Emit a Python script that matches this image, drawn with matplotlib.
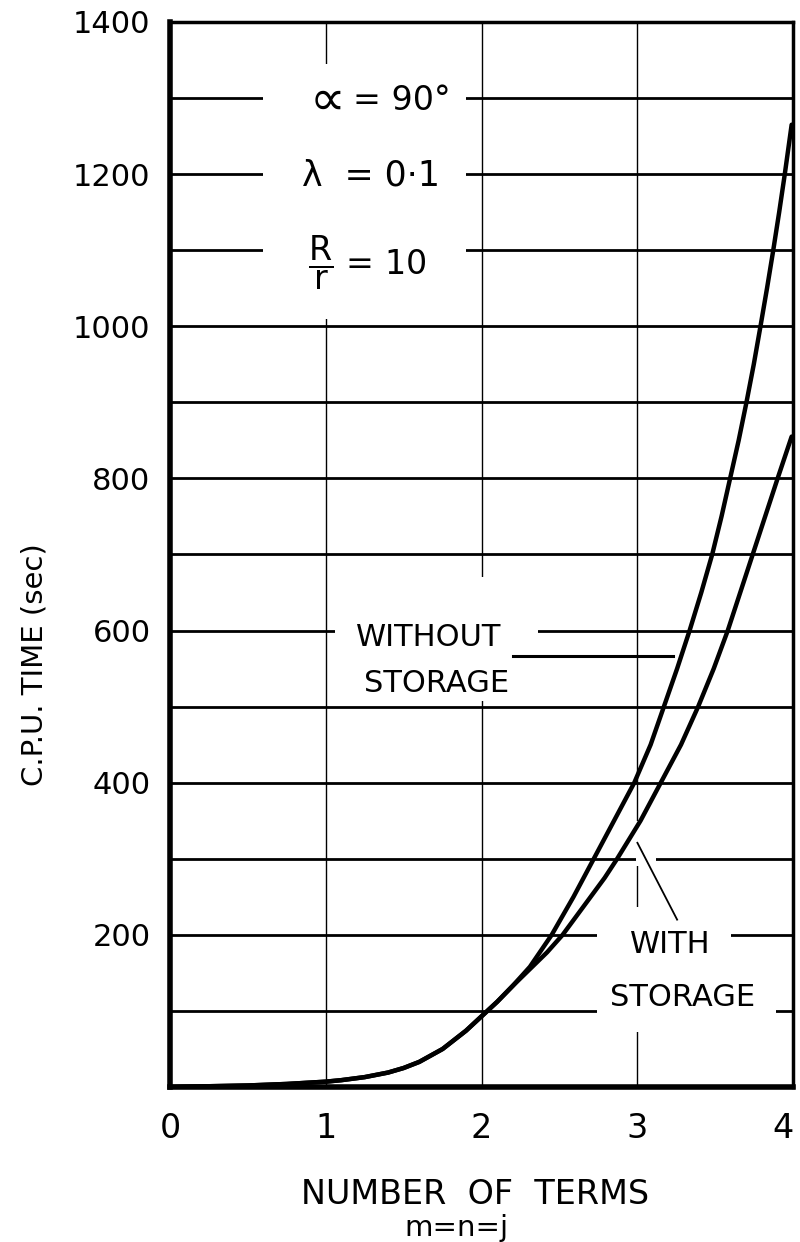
import matplotlib
matplotlib.use('Agg')
import matplotlib.pyplot as plt
from matplotlib.patches import Rectangle

plt.rcParams['font.family'] = ['DejaVu Sans']
plt.rcParams['mathtext.fontset'] = 'dejavusans'

# curves (number of terms, cpu seconds)
terms_without = [0, 0.25, 0.5, 0.75, 1.0, 1.1, 1.25, 1.4, 1.5, 1.6, 1.75, 1.9, 2.0, 2.1, 2.2,
                 2.31, 2.45, 2.59, 2.72, 2.85, 2.98, 3.085, 3.17, 3.255, 3.335, 3.41, 3.48,
                 3.54, 3.595, 3.65, 3.70, 3.747, 3.79, 3.832, 3.872, 3.91, 3.946, 3.99]
cpu_without = [0, 1, 2, 4, 7, 9, 13, 19, 25, 33, 50, 74, 93, 112, 133,
               158, 200, 250, 300, 350, 400, 450, 500, 550, 600, 650, 700,
               750, 800, 850, 900, 950, 1000, 1050, 1100, 1150, 1200, 1265]

terms_with = [0, 0.25, 0.5, 0.75, 1.0, 1.1, 1.25, 1.4, 1.5, 1.6, 1.75, 1.9, 2.0, 2.1, 2.2,
              2.31, 2.42, 2.52, 2.61, 2.70, 2.79, 2.87, 3.02, 3.15, 3.28, 3.39, 3.49,
              3.58, 3.66, 3.74, 3.82, 3.90, 3.99]
cpu_with = [0, 1, 2, 4, 7, 9, 13, 19, 25, 33, 50, 74, 93, 112, 133,
            155, 177, 200, 225, 250, 275, 300, 350, 400, 450, 500, 550,
            600, 650, 700, 750, 800, 855]

x_ticks = [0, 1, 2, 3, 4]
y_ticks = [200, 400, 600, 800, 1000, 1200, 1400]
y_grid = [100, 200, 300, 400, 500, 600, 700, 800, 900, 1000, 1100, 1200, 1300]

fig = plt.figure(figsize=(8, 12.42), dpi=100)
ax = fig.add_axes([0.2125, 0.1248, 0.779, 0.8575])
ax.set_xlim(0, 4)
ax.set_ylim(0, 1400)

# grid: heavy horizontals, light verticals
for yv in y_grid:
    ax.axhline(yv, color='black', lw=2.0, zorder=0.5)
for xv in x_ticks[1:-1]:
    ax.axvline(xv, color='black', lw=1.0, zorder=0.5)

# blank areas where the draughtsman broke the grid for lettering
gaps = [(0.60, 1010, 1.30, 335),   # parameter block
        (1.06, 507, 1.30, 163),    # WITHOUT STORAGE
        (2.74, 72, 0.86, 165),     # WITH STORAGE
        (3.60, 90, 0.29, 20),
        (2.99, 290, 0.13, 60)]
for gx, gy, gw, gh in gaps:
    ax.add_patch(Rectangle((gx, gy), gw, gh, facecolor='white', edgecolor='none', zorder=1))

ax.plot(terms_without, cpu_without, color='black', lw=3.2, solid_joinstyle='round',
        solid_capstyle='round', zorder=3)
ax.plot(terms_with, cpu_with, color='black', lw=3.2, solid_joinstyle='round',
        solid_capstyle='round', zorder=3)

# leader lines
ax.plot([2.2, 3.23], [566, 566], color='black', lw=2.2, zorder=3)
ax.plot([3.0, 3.255], [321, 220], color='black', lw=1.3, zorder=3)

# parameter block
ax.text(1.01, 1297, '∝', fontsize=36, ha='center', va='center', zorder=4)
ax.text(1.49, 1297, '= 90°', fontsize=24, ha='center', va='center', zorder=4)
ax.text(1.29, 1198, 'λ  = 0·1', fontsize=25, ha='center', va='center', zorder=4)
ax.text(1.27, 1083, r'$\dfrac{\mathsf{R}}{\mathsf{r}}$ = 10', fontsize=24, ha='center',
        va='center', zorder=4)

ax.text(1.66, 591, 'WITHOUT', fontsize=22, ha='center', va='center', zorder=4)
ax.text(1.71, 530, 'STORAGE', fontsize=22, ha='center', va='center', zorder=4)
ax.text(3.21, 187, 'WITH', fontsize=22, ha='center', va='center', zorder=4)
ax.text(3.29, 117, 'STORAGE', fontsize=22, ha='center', va='center', zorder=4)

ax.set_xticks(x_ticks)
ax.set_xticklabels([str(v) for v in x_ticks], fontsize=24)
ax.get_xticklabels()[-1].set_horizontalalignment('right')
ax.set_yticks(y_ticks)
ax.set_yticklabels([str(v) for v in y_ticks], fontsize=22)
ax.tick_params(axis='both', length=0)
ax.tick_params(axis='x', pad=18)
ax.tick_params(axis='y', pad=14)

for side, w in [('left', 4.0), ('bottom', 4.0), ('top', 2.5), ('right', 2.5)]:
    ax.spines[side].set_linewidth(w)
    ax.spines[side].set_zorder(5)

fig.text(35 / 800, 1 - 665 / 1242, 'C.P.U. TIME (sec)', fontsize=21, rotation=90,
         ha='center', va='center')
fig.text(0.594, 1 - 1195 / 1242, 'NUMBER  OF  TERMS', fontsize=24, ha='center', va='center')
fig.text(0.571, 1 - 1228 / 1242, 'm=n=j', fontsize=21, ha='center', va='center')

fig.savefig('out.png', dpi=100)
